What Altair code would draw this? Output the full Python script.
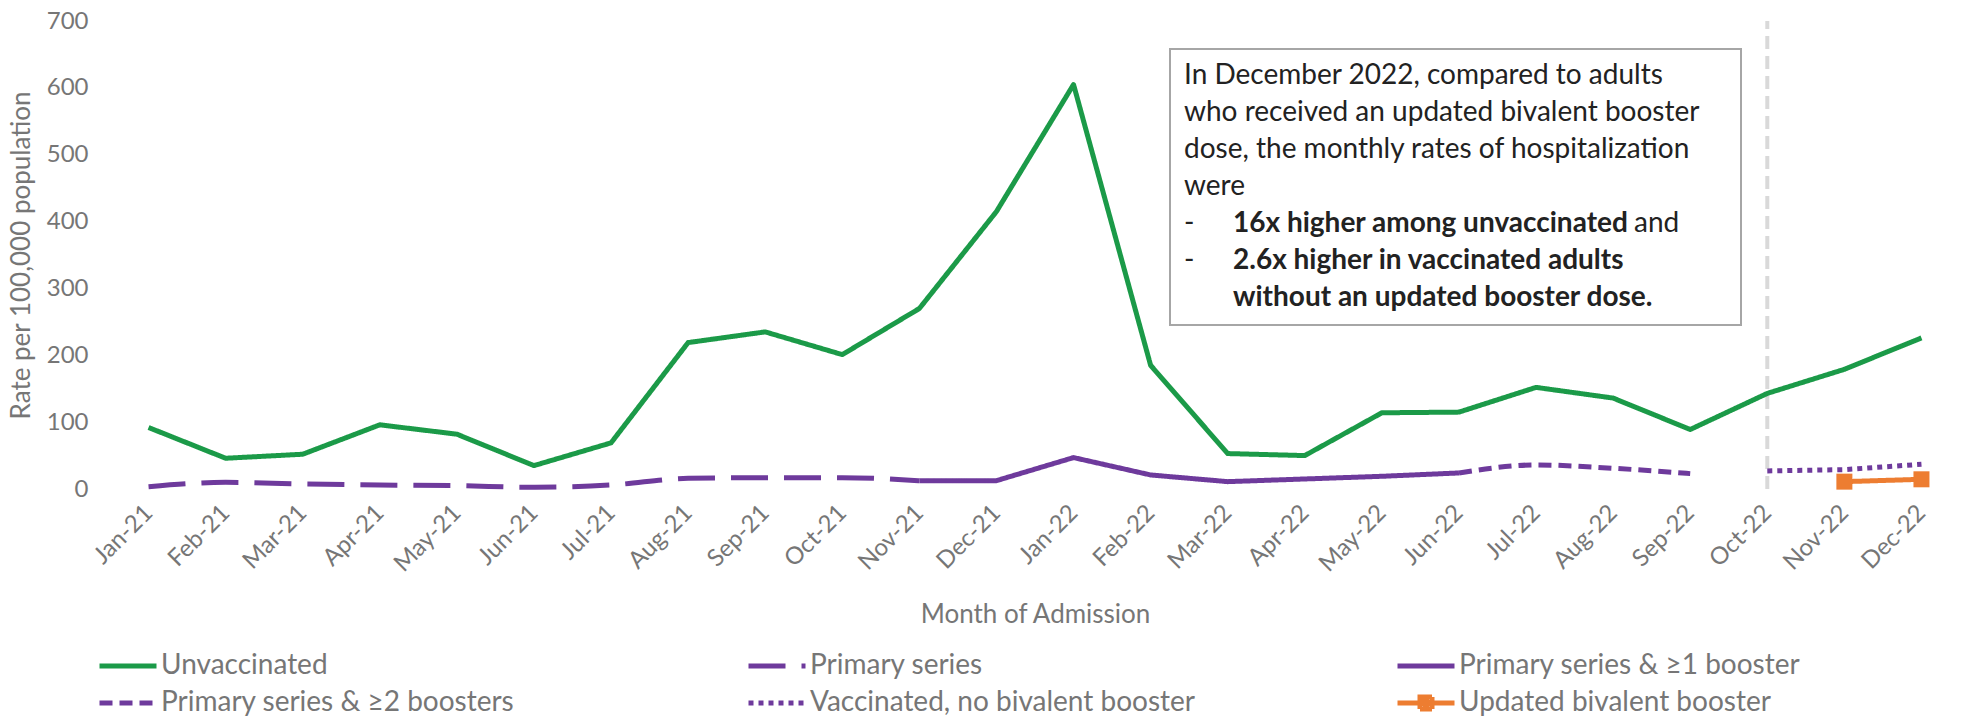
import altair as alt
import pandas as pd

months = ["Jan-21", "Feb-21", "Mar-21", "Apr-21", "May-21", "Jun-21", "Jul-21", "Aug-21",
          "Sep-21", "Oct-21", "Nov-21", "Dec-21", "Jan-22", "Feb-22", "Mar-22", "Apr-22",
          "May-22", "Jun-22", "Jul-22", "Aug-22", "Sep-22", "Oct-22", "Nov-22", "Dec-22"]

series_names = ["Unvaccinated", "Primary series", "Primary series & \u22651 booster",
                "Primary series & \u22652 boosters", "Vaccinated, no bivalent booster",
                "Updated bivalent booster"]

unvaccinated = [92, 46, 52, 96, 82, 35, 69, 219, 235, 201, 270, 415, 605, 185, 53, 50,
                114, 115, 152, 136, 89, 143, 179, 226]
primary_series = [3.5, 10, 7.5, 6, 5, 2.5, 6, 16, 17, 17, 12.4] + [None] * 13
booster_1 = [None] * 10 + [12.4, 12.5, 47, 21, 11, 15, 19, 24] + [None] * 6
booster_2 = [None] * 17 + [24, 36, 31, 23] + [None] * 3
no_bivalent = [None] * 21 + [27, 29, 37]
bivalent = [None] * 22 + [11, 14.5]

divider_month = ["Oct-22"]

note_lines = ["In December 2022, compared to adults",
              "who received an updated bivalent booster",
              "dose, the monthly rates of hospitalization",
              "were"]
note_bullets = ["16x higher among unvaccinated", "2.6x higher in vaccinated adults",
                "without an updated booster dose."]
note_tail = "and"

colors = ["#1B9A48", "#6E3A9C", "#6E3A9C", "#6E3A9C", "#6E3A9C", "#ED7D31"]
dashes = [[1, 0], [37, 16], [1, 0], [13, 7], [5, 5], [1, 0]]
LINE_PATH = "M-2.85,0H2.85"
shapes = [LINE_PATH] * 5 + [
    "M-2.85,0H2.85M-0.6,-0.6H0.6V0.6H-0.6ZM-0.3,-0.3H0.3V0.3H-0.3Z"]

rows = []
for name, vals in zip(series_names, [unvaccinated, primary_series, booster_1, booster_2,
                                     no_bivalent, bivalent]):
    for m, v in zip(months, vals):
        if v is not None:
            rows.append({"month": m, "series": name, "value": v})
df = pd.DataFrame(rows)

FONT = "Lato"
GRAY = "#767676"

x_enc = alt.X("month:O", scale=alt.Scale(type="point", domain=months, padding=0.5),
              axis=alt.Axis(title="Month of Admission", labelAngle=-45, labelAlign="right",
                            labelBaseline="middle", labelPadding=20, grid=False,
                            titlePadding=26, titleFontSize=26))
y_enc = alt.Y("value:Q", scale=alt.Scale(domain=[0, 700], nice=False),
              axis=alt.Axis(title="Rate per 100,000 population", values=list(range(0, 701, 100)),
                            labelPadding=22, titlePadding=12, titleFontSize=26))

color_enc = alt.Color("series:N", scale=alt.Scale(domain=series_names, range=colors),
                      legend=alt.Legend(title=None, orient="none", legendX=4, legendY=630,
                                        columns=3, direction="horizontal", gridAlign="all",
                                        columnPadding=192, rowPadding=6,
                                        symbolSize=400, symbolStrokeWidth=5, symbolOpacity=1,
                                        labelFontSize=28, labelFont=FONT, labelColor=GRAY,
                                        labelOffset=19, labelLimit=600))
dash_enc = alt.StrokeDash("series:N", scale=alt.Scale(domain=series_names, range=dashes),
                          legend=alt.Legend(title=None))
shape_enc = alt.Shape("series:N", scale=alt.Scale(domain=series_names, range=shapes),
                      legend=alt.Legend(title=None))

base = alt.Chart(df)

divider = alt.Chart(pd.DataFrame({"month": divider_month})).mark_rule(
    color="#D9D9D9", strokeWidth=4, strokeDash=[13, 7]
).encode(x=alt.X("month:O"), y=alt.datum(0), y2=alt.datum(700))

straight = base.transform_filter(
    alt.FieldOneOfPredicate(field="series", oneOf=[series_names[0], series_names[2],
                                                   series_names[4], series_names[5]])
).mark_line(strokeWidth=5, strokeCap="butt", strokeJoin="round").encode(
    x=x_enc, y=y_enc, color=color_enc, strokeDash=dash_enc)

curved = base.transform_filter(
    alt.FieldOneOfPredicate(field="series", oneOf=[series_names[1], series_names[3]])
).mark_line(strokeWidth=5, strokeCap="butt", strokeJoin="round", interpolate="monotone").encode(
    x=x_enc, y=y_enc, color=color_enc, strokeDash=dash_enc)

legend_shapes = base.transform_filter("false").mark_point(
    filled=False, strokeWidth=5, opacity=1).encode(
    x=x_enc, y=y_enc, color=color_enc, shape=shape_enc)

squares = base.transform_filter(
    alt.datum.series == series_names[5]
).mark_square(size=256, color="#ED7D31", opacity=1).encode(x=x_enc, y=y_enc)

one = alt.Data(values=[{}])
box = alt.Chart(one).mark_rect(fill="white", stroke="#A6A6A6", strokeWidth=2).encode(
    x=alt.value(1060), x2=alt.value(1631), y=alt.value(28), y2=alt.value(304))

texts = []
line_y = [55, 92, 129, 166]
for t, yy in zip(note_lines, line_y):
    texts.append(alt.Chart(one).mark_text(text=t, font=FONT, fontSize=28, color="#222222",
                                          align="left", baseline="middle")
                 .encode(x=alt.value(1074), y=alt.value(yy)))
bullet_y = [203, 240, 277]
for i, (t, yy) in enumerate(zip(note_bullets, bullet_y)):
    if i < 2:
        texts.append(alt.Chart(one).mark_text(text="-", font=FONT, fontSize=28, color="#222222",
                                              align="left", baseline="middle")
                     .encode(x=alt.value(1074), y=alt.value(yy)))
    texts.append(alt.Chart(one).mark_text(text=t, font=FONT, fontSize=28, fontWeight="bold",
                                          color="#222222", align="left", baseline="middle")
                 .encode(x=alt.value(1123), y=alt.value(yy)))
texts.append(alt.Chart(one).mark_text(text=note_tail, font=FONT, fontSize=28, color="#222222",
                                      align="left", baseline="middle")
             .encode(x=alt.value(1524), y=alt.value(bullet_y[0])))

chart = alt.layer(divider, straight, curved, legend_shapes, squares, box, *texts).properties(
    width=1850, height=468,
    padding={"left": 102, "top": 13, "right": 3, "bottom": 228},
    autosize=alt.AutoSizeParams(type="none"),
    background="white",
).configure_view(stroke=None).configure_axis(
    labelFont=FONT, titleFont=FONT, labelFontSize=24, labelColor=GRAY, titleColor=GRAY,
    titleFontWeight="normal", gridColor="#D9D9D9", gridWidth=2, domain=False, ticks=False
)

chart.save("out.html", embed_options={"renderer": "svg", "actions": False})
